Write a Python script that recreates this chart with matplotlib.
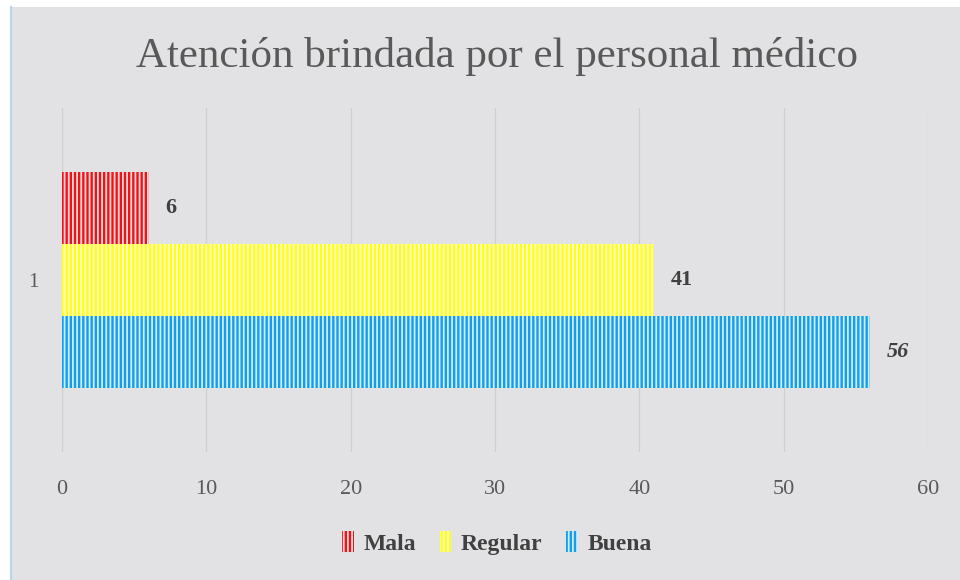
import matplotlib
matplotlib.use("Agg")
import matplotlib.pyplot as plt
import matplotlib.patches as mpatches

# data
series = ["Mala", "Regular", "Buena"]
values = [6, 41, 56]
category = ["1"]
fill_colors = ["#e8151b", "#ffff1a", "#1a9be6"]
stripe_colors = ["#ffd9d9", "#ffffd0", "#c8f0ff"]
label_styles = ["normal", "normal", "italic"]
x_ticks = [0, 10, 20, 30, 40, 50, 60]

plt.rcParams["font.family"] = ["Liberation Serif", "DejaVu Serif"]
plt.rcParams["hatch.linewidth"] = 1.3

fig = plt.figure(figsize=(9.6, 5.8), dpi=100)
fig.patch.set_facecolor("white")

# marble-ish background panel
bg = mpatches.Rectangle((12 / 960, 0), 1 - 12 / 960, 1 - 7 / 580,
                        transform=fig.transFigure, facecolor="#e2e2e4",
                        edgecolor="none", zorder=-10)
fig.patches.append(bg)
fig.add_artist(plt.Line2D([11 / 960, 11 / 960], [0, 1 - 7 / 580],
                          transform=fig.transFigure, color="#b8d4ee", lw=1.5))

ax = fig.add_axes([62 / 960, 1 - 452 / 580, (928 - 62) / 960, (452 - 108) / 580])
ax.set_facecolor("none")

bar_h = 0.2084
ypos = [bar_h, 0, -bar_h]
for i, name in enumerate(series):
    ax.barh(ypos[i], values[i], height=bar_h, color=fill_colors[i],
            edgecolor=stripe_colors[i], linewidth=0, hatch="||||",
            label=name, zorder=3)
    ax.annotate(str(values[i]), (values[i], ypos[i]), xytext=(12, 0),
                textcoords="offset points", ha="left", va="center",
                fontsize=16, fontweight="bold", fontstyle=label_styles[i],
                color="#404040")

ax.set_xlim(0, 60)
ax.set_ylim(-0.5, 0.5)
ax.set_xticks(x_ticks)
ax.set_yticks([0])
ax.set_yticklabels(category)
ax.tick_params(axis="x", length=0, pad=20, labelsize=16, labelcolor="#595959")
ax.tick_params(axis="y", length=0, pad=17, labelsize=15, labelcolor="#595959")
ax.grid(axis="x", color="#cfcfcf", linewidth=0.9, zorder=0)
for s in ax.spines.values():
    s.set_visible(False)

fig.text(497 / 960, 1 - 57 / 580, "Atención brindada por el personal médico",
         ha="center", va="center", fontsize=31, color="#595959")

leg = ax.legend(loc="center", bbox_to_anchor=(497 / 960, 1 - 543 / 580),
                bbox_transform=fig.transFigure, ncol=3, frameon=False,
                handlelength=0.5, handleheight=1.0, handletextpad=0.4,
                columnspacing=1.0, prop={"size": 17, "weight": "bold"})
for t in leg.get_texts():
    t.set_color("#404040")

fig.savefig("out.png", dpi=100, facecolor=fig.get_facecolor())
